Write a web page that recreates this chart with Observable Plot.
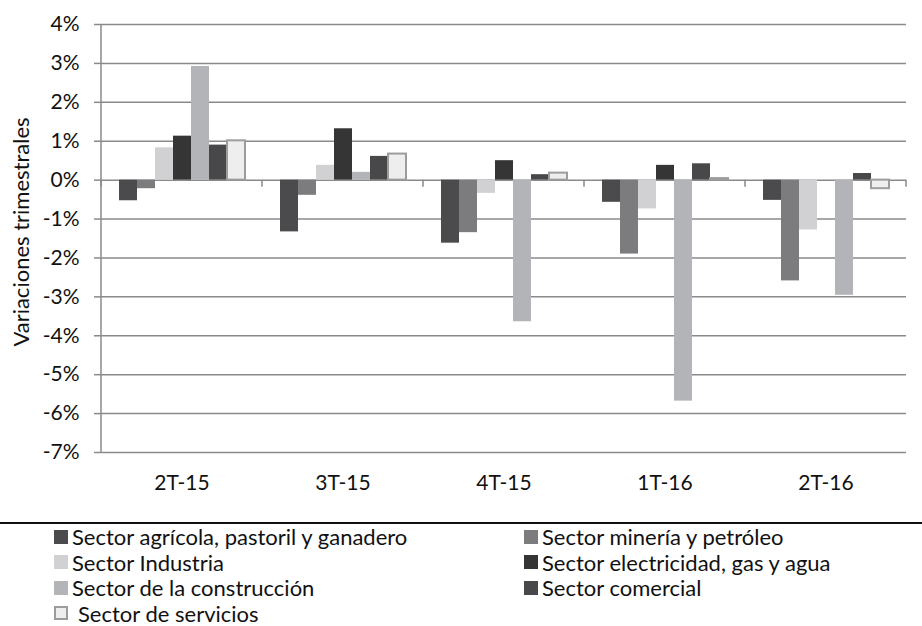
<!DOCTYPE html>
<html>
<head>
<meta charset="utf-8">
<script src="https://cdn.jsdelivr.net/npm/d3@7"></script>
<script src="https://cdn.jsdelivr.net/npm/@observablehq/plot@0.6"></script>
<style>
  body { margin: 0; background: #fff; font-family: Lato, "Open Sans", sans-serif; color: #111; }
  #wrap { width: 922px; }
  #chart svg { display: block; }
  .rule { height: 2px; background: #111; margin-top: 10px; width: 922px; }
  .legend { position: relative; height: 100px; font-size: 22px; }
  .item { position: absolute; height: 25.5px; line-height: 25.5px; white-space: nowrap; display: flex; align-items: center; }
  .sw { width: 14px; height: 14px; box-sizing: border-box; flex: none; }
</style>
</head>
<body>
<div id="wrap">
  <div id="chart"></div>
  <div class="rule"></div>
  <div class="legend" id="legend"></div>
</div>
<script>
// Quarters shown along the bottom
const quarters = ["2T-15", "3T-15", "4T-15", "1T-16", "2T-16"];

// Sector names, in bar order within each quarter
const sectors = [
  "Sector agrícola, pastoril y ganadero",
  "Sector minería y petróleo",
  "Sector Industria",
  "Sector electricidad, gas y agua",
  "Sector de la construcción",
  "Sector comercial",
  "Sector de servicios"
];

// Quarterly change (%) per sector, one value per quarter
const agricola     = [-0.53, -1.33, -1.62, -0.57, -0.52];
const mineria      = [-0.22, -0.39, -1.35, -1.90, -2.59];
const industria    = [ 0.83,  0.38, -0.34, -0.74, -1.28];
const electricidad = [ 1.13,  1.32,  0.50,  0.38,  0.00];
const construccion = [ 2.92,  0.20, -3.64, -5.68, -2.96];
const comercial    = [ 0.90,  0.61,  0.14,  0.42,  0.17];
const servicios    = [ 1.01,  0.67,  0.18,  0.04, -0.22];

// Y axis ticks (%)
const yTicks = [-7, -6, -5, -4, -3, -2, -1, 0, 1, 2, 3, 4];

const yTitle = "Variaciones trimestrales";

const fills   = ["#4b4b4d", "#7c7c7e", "#d1d1d3", "#353535", "#b3b4b8", "#48484a", "#eeeeee"];
const strokes = ["none", "none", "none", "none", "none", "none", "#9c9c9c"];

const series = [agricola, mineria, industria, electricidad, construccion, comercial, servicios];
const rows = quarters.flatMap((q, i) => sectors.map((s, j) => ({quarter: q, sector: s, value: series[j][i]})));

const grid = "#8a8a8a";
const ink = "#111";
const font = "Lato, 'Open Sans', sans-serif";

const chart = Plot.plot({
  width: 922,
  height: 512,
  marginTop: 24,
  marginBottom: 60,
  marginLeft: 101,
  marginRight: 16,
  style: {fontFamily: font, fontSize: "21px", color: ink, background: "#fff"},
  fx: {domain: quarters, padding: 0, label: null},
  x: {domain: sectors, paddingInner: 0, paddingOuter: 0.8, axis: null},
  y: {domain: [-7, 4], label: null},
  color: {domain: sectors, range: fills},
  marks: [
    Plot.ruleY(yTicks, {stroke: grid, strokeWidth: 1.5}),
    Plot.barY(rows, {
      fx: "quarter",
      x: "sector",
      y: "value",
      fill: "sector",
      stroke: d => strokes[sectors.indexOf(d.sector)],
      strokeWidth: 2,
      inset: 0
    }),
    Plot.axisY({
      ticks: yTicks,
      tickFormat: d => `${d}%`,
      tickSize: 7,
      tickPadding: 15,
      stroke: grid,
      strokeWidth: 1.5,
      fill: ink,
      fontSize: 21,
      label: null
    }),
    Plot.axisFx({
      anchor: "bottom",
      tickSize: 0,
      tickPadding: 23,
      fill: ink,
      fontSize: 21,
      label: null
    })
  ]
});

document.getElementById("chart").appendChild(chart);

// Category axis: vertical axis line plus boundary ticks on the zero line
const svgEl = chart.tagName.toLowerCase() === "svg" ? chart : chart.querySelector("svg");
const fx = chart.scale("fx");
const ys = chart.scale("y");
const svg = d3.select(svgEl);
const y0 = ys.apply(0);
const yTop = ys.apply(4), yBottom = ys.apply(-7);
const edges = quarters.map(q => fx.apply(q));
edges.push(fx.apply(quarters[quarters.length - 1]) + fx.bandwidth);
const g = svg.append("g").attr("stroke", grid).attr("stroke-width", 1.5);
g.append("line")
  .attr("x1", edges[0]).attr("x2", edges[0])
  .attr("y1", yTop).attr("y2", yBottom);
g.selectAll("line.edge").data(edges).join("line")
  .attr("class", "edge")
  .attr("x1", d => d).attr("x2", d => d)
  .attr("y1", y0).attr("y2", y0 + 7);

// Rotated value-axis title
const cy = (yTop + yBottom) / 2 - 6;
svg.append("text")
  .attr("transform", `translate(20,${cy}) rotate(-90)`)
  .attr("text-anchor", "middle")
  .attr("dominant-baseline", "central")
  .attr("fill", ink)
  .style("font-family", font)
  .style("font-size", "22px")
  .text(yTitle);

// Legend in two columns
const legend = d3.select("#legend");
const colLeft = [54, 524];
sectors.forEach((s, j) => {
  const col = j % 2, row = Math.floor(j / 2);
  const item = legend.append("div").attr("class", "item")
    .style("left", colLeft[col] + "px")
    .style("top", (row * 25.5) + "px");
  item.append("div").attr("class", "sw")
    .style("background", fills[j])
    .style("border", strokes[j] === "none" ? "none" : `2px solid ${strokes[j]}`)
    .style("margin-right", strokes[j] === "none" ? "4px" : "10px");
  item.append("span").text(s);
});
</script>
</body>
</html>
